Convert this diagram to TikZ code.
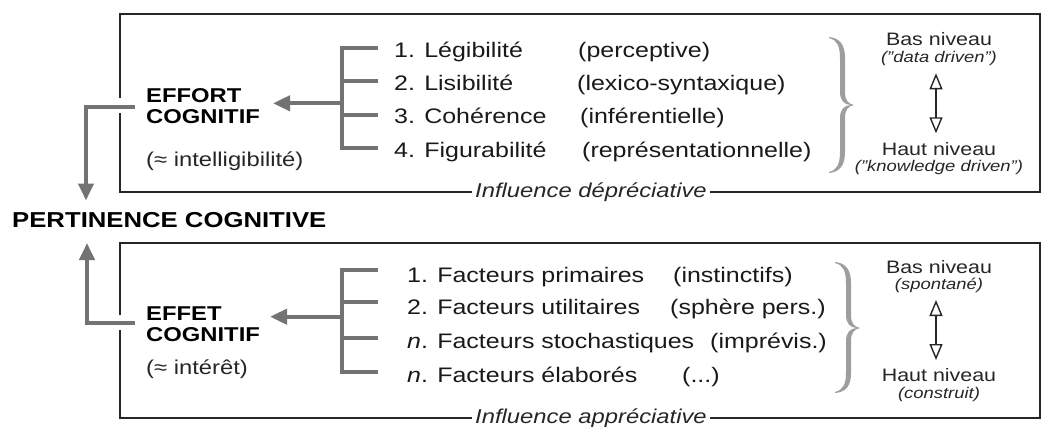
\documentclass[tikz,border=0pt]{standalone}
\usepackage{fontspec}
\setmainfont{Liberation Sans}[FakeStretch=1.19]
\usetikzlibrary{arrows.meta}
\tikzset{
  boxline/.style={line width=1.6pt, draw=black!85},
  gline/.style={line width=4pt, draw=black!55},
  garrow/.style={gline, -{Triangle[length=17pt,width=15pt]}},
  dblarrow/.style={line width=1.4pt, draw=black!85, {Triangle[open,length=16pt,width=13pt,fill=white]}-{Triangle[open,length=16pt,width=13pt,fill=white]}},
  item/.style={anchor=base west, inner sep=0pt, font=\fontsize{21}{24}\selectfont, text=black!90},
  headtxt/.style={anchor=base west, inner sep=0pt, font=\fontsize{20}{22}\selectfont\bfseries},
  subtxt/.style={anchor=base west, inner sep=0pt, font=\fontsize{20}{24}\selectfont, text=black!85},
  lvl/.style={anchor=base, inner sep=0pt, font=\fontsize{18}{20}\selectfont, text=black!85},
  lvlsub/.style={anchor=base, inner sep=0pt, font=\fontsize{15.5}{18}\selectfont\itshape, text=black!85},
  infl/.style={inner sep=3pt, font=\fontsize{20}{24}\selectfont\itshape, text=black!85},
  bracecol/.style={fill=black!38, draw=none}
}
\begin{document}
\begin{tikzpicture}[x=1pt,y=-1pt]
\useasboundingbox (0,0) rectangle (1042,426);
\clip (0,0) rectangle (1042,426);

% ---------- title ----------
\node[anchor=base west, inner sep=0pt, font=\fontsize{21.6}{24}\selectfont\bfseries] (pert) at (12,227.3) {PERTINENCE COGNITIVE};

% ---------- top box ----------
\node[infl] (infl1) at (591,192) {Influence dépréciative};
\draw[boxline] (120,98) -- (120,14) -- (1040,14) -- (1040,192) -- (infl1.east);
\draw[boxline] (infl1.west) -- (120,192) -- (120,113);

\node[headtxt] (effortA) at (146,102.7) {EFFORT};
\node[headtxt] (effortB) at (146,123.3) {COGNITIF};
\node[subtxt] (intel) at (146,166) {(≈ intelligibilité)};

\node[item] (l1) at (394,57) {1. Légibilité};
\node[item] (l2) at (394,90.3) {2. Lisibilité};
\node[item] (l3) at (394,123.7) {3. Cohérence};
\node[item] (l4) at (394,157) {4. Figurabilité};
\node[item] (q1) at (578,57) {(perceptive)};
\node[item] (q2) at (577,90.3) {(lexico-syntaxique)};
\node[item] (q3) at (580,123.7) {(inférentielle)};
\node[item] (q4) at (582,157) {(représentationnelle)};

% bracket top
\coordinate (ta1) at (378,48.3);
\coordinate (ta2) at (378,80.7);
\coordinate (ta3) at (378,115);
\coordinate (ta4) at (378,148.3);
\coordinate (sa) at (342,103.3);
\coordinate (ea) at (273,103.3);
\draw[gline] (ta1) -- (ta1 -| sa) -- (ta4 -| sa) -- (ta4);
\draw[gline] (ta2) -- (ta2 -| sa);
\draw[gline] (ta3) -- (ta3 -| sa);
\draw[garrow] (sa) -- (ea);

% left arrow top
\coordinate (ls1) at (135,106.5);
\coordinate (lc1) at (86,106.5);
\coordinate (le1) at (86,200.5);
\draw[garrow] (ls1) -- (lc1) -- (le1);

% brace top
\begin{scope}[shift={(829,105)}]
\fill[bracecol] (0,-68) .. controls (11,-67) and (16,-60) .. (16,-47) -- (16,-13) .. controls (16,-5) and (19,-1) .. (25,0)
  .. controls (19,1) and (16,5) .. (16,13) -- (16,47) .. controls (16,60) and (11,67) .. (0,68)
  -- (0,67) .. controls (8,65) and (11,59) .. (11,47) -- (11,13) .. controls (11,5) and (15,0) .. (22,0)
  .. controls (15,0) and (11,-5) .. (11,-13) -- (11,-47) .. controls (11,-59) and (8,-65) .. (0,-67) -- cycle;
\end{scope}

\node[lvl] (bas1) at (939,45.5) {Bas niveau};
\node[lvlsub] (bass1) at (939,62) {("data driven")};
\node[lvl] (haut1) at (939,155) {Haut niveau};
\node[lvlsub] (hauts1) at (939,171.5) {("knowledge driven")};
\coordinate (da1) at (936,73.3);
\coordinate (db1) at (936,133.3);
\draw[dblarrow] (da1) -- (db1);

% ---------- bottom box ----------
\node[infl] (infl2) at (591,418) {Influence appréciative};
\draw[boxline] (120,315) -- (120,243) -- (1040,243) -- (1040,418) -- (infl2.east);
\draw[boxline] (infl2.west) -- (120,418) -- (120,330);

\node[headtxt] (effetA) at (146,320) {EFFET};
\node[headtxt] (effetB) at (146,341.7) {COGNITIF};
\node[subtxt] (inter) at (146,374) {(≈ intérêt)};

\node[item] (m1) at (407,282) {1. Facteurs primaires};
\node[item] (m2) at (407,314) {2. Facteurs utilitaires};
\node[item] (m3) at (407,348) {{\itshape n}. Facteurs stochastiques};
\node[item] (m4) at (407,382) {{\itshape n}. Facteurs élaborés};
\node[item] (r1) at (673,282) {(instinctifs)};
\node[item] (r2) at (670,314) {(sphère pers.)};
\node[item] (r3) at (710,348) {(imprévis.)};
\node[item] (r4) at (682,382) {(...)};

% bracket bottom
\coordinate (tb1) at (378,270);
\coordinate (tb2) at (378,301.7);
\coordinate (tb3) at (378,337.7);
\coordinate (tb4) at (378,372.3);
\coordinate (sb) at (342,316.7);
\coordinate (eb) at (270,316.7);
\draw[gline] (tb1) -- (tb1 -| sb) -- (tb4 -| sb) -- (tb4);
\draw[gline] (tb2) -- (tb2 -| sb);
\draw[gline] (tb3) -- (tb3 -| sb);
\draw[garrow] (sb) -- (eb);

% left arrow bottom
\coordinate (ls2) at (135,322.7);
\coordinate (lc2) at (87,322.7);
\coordinate (le2) at (87,243);
\draw[garrow] (ls2) -- (lc2) -- (le2);

% brace bottom
\begin{scope}[shift={(835,328)}]
\fill[bracecol] (0,-66) .. controls (11,-65) and (16,-58) .. (16,-45) -- (16,-13) .. controls (16,-5) and (19,-1) .. (25,0)
  .. controls (19,1) and (16,5) .. (16,13) -- (16,45) .. controls (16,58) and (11,64) .. (0,65)
  -- (0,64) .. controls (8,62) and (11,56) .. (11,45) -- (11,13) .. controls (11,5) and (15,0) .. (22,0)
  .. controls (15,0) and (11,-5) .. (11,-13) -- (11,-45) .. controls (11,-57) and (8,-63) .. (0,-65) -- cycle;
\end{scope}

\node[lvl] (bas2) at (939,273.5) {Bas niveau};
\node[lvlsub] (bass2) at (939,289) {(spontané)};
\node[lvl] (haut2) at (939,381.5) {Haut niveau};
\node[lvlsub] (hauts2) at (939,398) {(construit)};
\coordinate (da2) at (936,300);
\coordinate (db2) at (936,360);
\draw[dblarrow] (da2) -- (db2);
\end{tikzpicture}
\end{document}
